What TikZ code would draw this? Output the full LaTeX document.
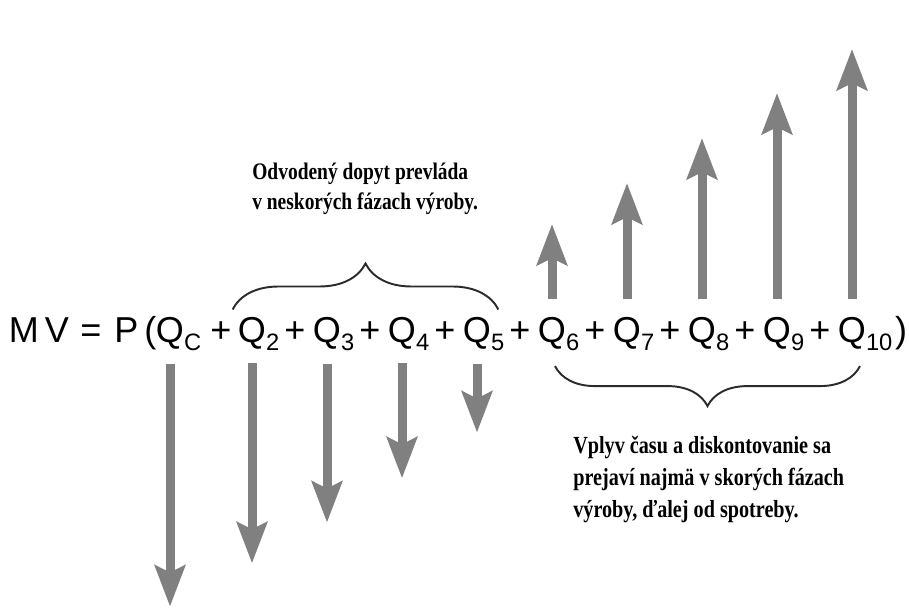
\documentclass[tikz,border=0pt]{standalone}
\usepackage{fontspec}
\setmainfont{Liberation Sans}
\newfontfamily\notefont[FakeStretch=0.82]{Liberation Serif}
\usetikzlibrary{arrows.meta, decorations.pathreplacing}
\definecolor{flowgray}{HTML}{808080}
\definecolor{bracegray}{HTML}{2B2B2B}
\newcommand{\qsub}[1]{Q\rlap{\raisebox{-0.17cm}{\fontsize{13.5}{16}\selectfont #1}}}

\begin{document}
\begin{tikzpicture}[
    term/.style={inner sep=0pt, anchor=base, font=\fontsize{20.5}{25}\selectfont},
    flow/.style={line width=0.18cm, draw=flowgray,
                 -{Stealth[length=0.82cm, width=0.6cm, inset=0.14cm]}},
    hbrace/.style={decorate, draw=bracegray, line width=1.1pt},
    note/.style={inner sep=0pt, anchor=north west, align=left}]
  \useasboundingbox (0,0) rectangle (18.18,12.14);
  % left-hand side
  \node[term] (mv) at (0.78,5.30) {M\,V};
  \node[term] (eq) at (1.82,5.30) {=};
  \node[term] (p) at (2.71,5.30) {P\,(};
  % terms of the sum
  \node[term] (qC) at (3.40,5.30) {\qsub{C}};
  \foreach \k/\x in {2/5.04, 3/6.54, 4/8.04, 5/9.54, 6/11.04, 7/12.54, 8/14.04, 9/15.54, 10/17.04}
    \node[term] (q\k) at (\x,5.30) {\qsub{\k}};
  \foreach \x [count=\i] in {4.42, 5.90, 7.40, 8.90, 10.40, 11.90, 13.40, 14.90, 16.40}
    \node[term] (plus\i) at (\x,5.30) {+};
  \node[term] (rp) at (18.02,5.30) {)};
  % late stages go up
  \foreach \k/\len in {6/1.50, 7/2.32, 8/3.22, 9/4.12, 10/5.00}
    \draw[flow] ([yshift=0.35cm]q\k.north) -- ++(0,\len);
  % early stages go down
  \foreach \k/\len in {C/4.86, 2/4.00, 3/3.18, 4/2.30, 5/1.38}
    \draw[flow] ([yshift=-0.25cm]q\k.south) -- ++(0,-\len);
  % braces
  \draw[hbrace, decoration={brace, amplitude=0.92cm}]
    ([xshift=-0.10cm, yshift=0.14cm]q2.north west) -- ([xshift=0.14cm, yshift=0.14cm]q5.north east);
  \draw[hbrace, decoration={brace, mirror, amplitude=0.80cm}]
    ([xshift=0.06cm, yshift=-0.30cm]q6.south) -- ([xshift=0.16cm, yshift=-0.30cm]q10.south);
  % notes
  \node[note, font=\notefont\bfseries\fontsize{13.5}{17}\selectfont] (demand) at (5.04,8.89)
    {Odvodený dopyt prevláda\\v neskorých fázach výroby.};
  \node[note, font=\notefont\bfseries\fontsize{14}{18.2}\selectfont] (timing) at (11.46,3.43)
    {Vplyv času a diskontovanie sa\\prejaví najmä v skorých fázach\\výroby, ďalej od spotreby.};
\end{tikzpicture}
\end{document}
